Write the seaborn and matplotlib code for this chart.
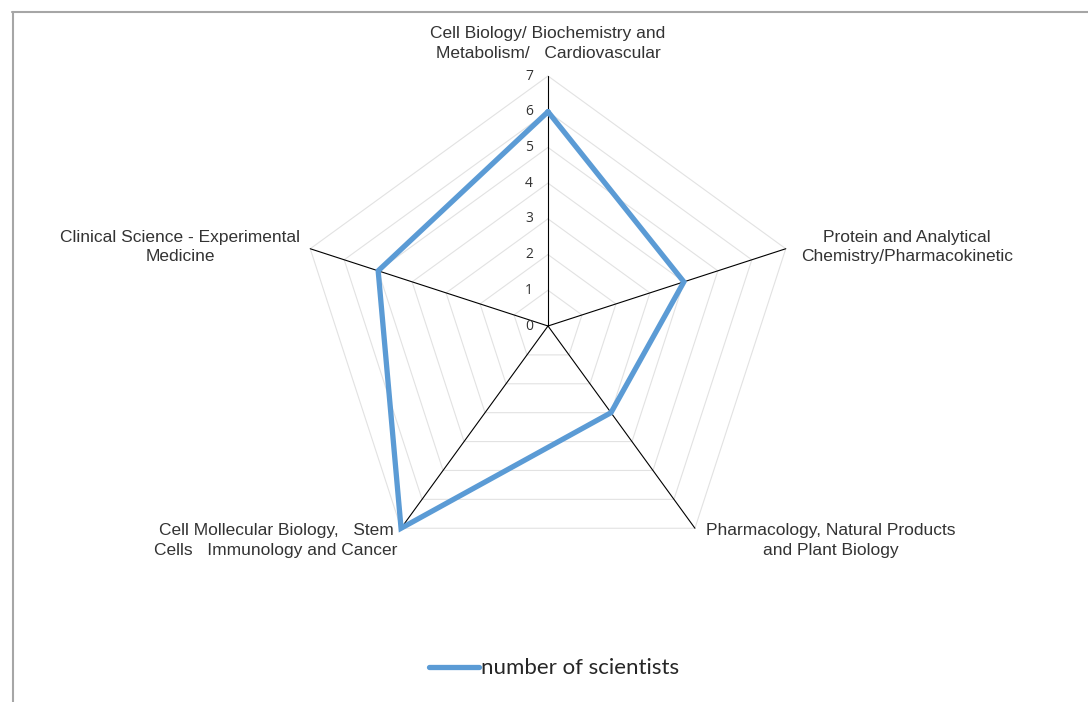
import numpy as np
import matplotlib
matplotlib.use("Agg")
import matplotlib.pyplot as plt
import seaborn as sns
from matplotlib.lines import Line2D

categories = [
    "Cell Biology/ Biochemistry and\nMetabolism/   Cardiovascular",
    "Protein and Analytical\nChemistry/Pharmacokinetic",
    "Pharmacology, Natural Products\nand Plant Biology",
    "Cell Mollecular Biology,   Stem\nCells   Immunology and Cancer",
    "Clinical Science - Experimental\nMedicine",
]
scientists = [6, 4, 3, 7, 5]
ticks = [0, 1, 2, 3, 4, 5, 6, 7]
series_name = "number of scientists"

sns.set_style("white")
plt.rcParams["font.family"] = ["Liberation Sans", "DejaVu Sans"]

fig = plt.figure(figsize=(10.88, 7.02), dpi=100)
ax = fig.add_axes([0, 0, 1, 1])

# scale: 7 units = 250 px, centre at (548, 326) px
ppu = 250 / 7
ax.set_xlim(-548 / ppu, (1088 - 548) / ppu)
ax.set_ylim(-(702 - 326) / ppu, 326 / ppu)
ax.set_aspect("equal")
ax.axis("off")

n = len(categories)
ang = np.pi / 2 - np.arange(n) * 2 * np.pi / n
rmax = ticks[-1]

# pentagon grid
for t in ticks[1:]:
    gx = np.append(t * np.cos(ang), t * np.cos(ang[0]))
    gy = np.append(t * np.sin(ang), t * np.sin(ang[0]))
    ax.plot(gx, gy, color="#e2e2e2", lw=0.8, zorder=1)

# spokes
for a in ang:
    ax.plot([0, rmax * np.cos(a)], [0, rmax * np.sin(a)], color="black", lw=0.8, zorder=2)

# radial tick labels
for t in ticks:
    ax.text(-0.42, t, str(t), ha="right", va="center", fontsize=10,
            color="#333333", family=["Open Sans", "DejaVu Sans"])

# series
vals = np.array(scientists + scientists[:1], dtype=float)
angs = np.append(ang, ang[0])
sns.lineplot(x=vals * np.cos(angs), y=vals * np.sin(angs), sort=False, estimator=None,
             color="#5b9bd5", lw=3.8, ax=ax, label=series_name, zorder=3)
ax.lines[-1].set_solid_joinstyle("miter")

# category labels (offsets from spoke ends, in data units)
offsets = [(0, 0.9), (3.4, 0.05), (3.8, -0.35), (-3.5, -0.35), (-3.65, 0.05)]
for lab, a, (dx, dy) in zip(categories, ang, offsets):
    ax.text(rmax * np.cos(a) + dx, rmax * np.sin(a) + dy, lab, ha="center", va="center",
            fontsize=12.5, color="#333333", linespacing=1.4)

leg = ax.legend(loc="center", bbox_to_anchor=(0.509, 0.048), frameon=False,
                handlelength=2.25, handletextpad=0.1,
                prop={"family": ["Lato", "DejaVu Sans"], "size": 16})
for h in leg.get_lines():
    h.set_linewidth(3.8)
for txt in leg.get_texts():
    txt.set_color("#262626")

# outer frame (cropped chart border)
fig.add_artist(Line2D([12.5 / 1088, 12.5 / 1088], [0, 1 - 12 / 702], color="#a6a6a6", lw=1.5))
fig.add_artist(Line2D([12 / 1088, 1], [1 - 12 / 702, 1 - 12 / 702], color="#a6a6a6", lw=1.5))

fig.savefig("out.png", dpi=100)
